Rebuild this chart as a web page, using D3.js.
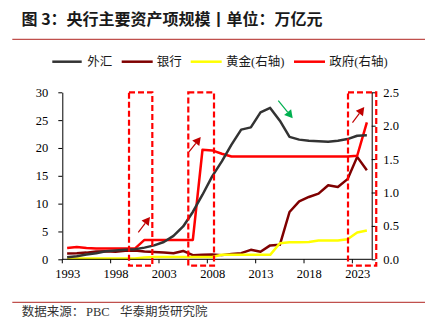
<!DOCTYPE html>
<html><head><meta charset="utf-8">
<script src="https://cdn.jsdelivr.net/npm/d3@7"></script>
<style>
html,body{margin:0;padding:0;background:#fff;}
svg{display:block;}
</style></head>
<body>
<svg id="c" width="437" height="332"></svg>
<script>
// ---- data ----
const years = d3.range(1993, 2025);
const fx    = [0.35,0.55,0.85,1.1,1.45,1.6,1.7,1.8,2.1,2.5,3.1,4.2,5.9,8.5,11.6,14.9,17.6,20.6,23.3,23.7,26.4,27.2,24.9,22.0,21.5,21.3,21.2,21.1,21.3,21.6,22.2,22.3];
const banks = [1.05,1.1,1.2,1.4,1.45,1.35,1.55,1.6,1.4,1.3,1.2,1.1,1.5,0.75,0.8,0.85,0.75,0.95,1.1,1.7,1.35,2.5,2.6,8.5,10.4,11.2,11.8,13.3,13.0,14.4,18.4,16.0];
const gold  = [0.012,0.012,0.012,0.012,0.012,0.012,0.012,0.012,0.026,0.034,0.034,0.034,0.034,0.034,0.034,0.034,0.067,0.067,0.067,0.067,0.067,0.067,0.24,0.255,0.255,0.26,0.28,0.28,0.28,0.3,0.4,0.43];
const govt  = [0.17,0.185,0.17,0.16,0.16,0.16,0.16,0.16,0.29,0.29,0.29,0.29,0.29,0.29,1.64,1.63,1.58,1.54,1.54,1.54,1.54,1.54,1.54,1.54,1.54,1.54,1.54,1.54,1.54,1.54,1.55,2.05];
const leftTicks = [0,5,10,15,20,25,30];
const rightTicks = [0,0.5,1.0,1.5,2.0,2.5];
const labelYears = [1993,1998,2003,2008,2013,2018,2023];
const seriesNames = ["外汇","银行","黄金(右轴)","政府(右轴)"];
const seriesColors = ["#333333","#7f0000","#ffff00","#ff0000"];
// annotation boxes [startYear, endYear] (fractional year edges), arrows [x0,y0,x1,y1] in (year, left-axis value)
const boxes = [[1999.9,2002.31],[2006.03,2008.69],[2022.55,2025.47]];
const arrows = [
  {p:[2000.86,4.85,2002.07,7.6], c:"#c00000"},
  {p:[2006.1,19.3,2007.32,21.97], c:"#c00000"},
  {p:[2023.01,24.57,2024.23,27.35], c:"#c00000"},
  {p:[2015.34,28.49,2016.83,25.33], c:"#00b050"}
];

const svg = d3.select("#c");
const L = 62.3, R = 371.7, T = 92.3, B = 259.3;
const xEdge = d3.scaleLinear().domain([1993, 2025]).range([L, R]);
const xc = y => xEdge(y + 0.5);
const yL = d3.scaleLinear().domain([0, 30]).range([B, T]);
const yR = d3.scaleLinear().domain([0, 2.5]).range([B, T]);

const serif = "'Liberation Serif','Times New Roman','Noto Sans CJK SC',serif";
const cjk = "'Noto Sans CJK SC','Liberation Serif',sans-serif";

// title
svg.append("text").attr("x", 21.5).attr("y", 18).attr("dominant-baseline","central")
  .attr("font-family", cjk).attr("font-weight","bold").attr("font-size", 16).attr("fill","#1a1a1a")
  .text("图 3：央行主要资产项规模丨单位：万亿元");
svg.append("line").attr("x1",12.3).attr("x2",425).attr("y1",39.3).attr("y2",39.3)
  .attr("stroke","#c0504d").attr("stroke-width",1.2);

// legend
const legX = [[52.3,81.7,87.3],[121.7,152.7,156.7],[190.7,221.7,226],[294,325,329.3]];
seriesNames.forEach((n,i)=>{
  svg.append("line").attr("x1",legX[i][0]).attr("x2",legX[i][1]).attr("y1",61.7).attr("y2",61.7)
    .attr("stroke",seriesColors[i]).attr("stroke-width",2.5);
  svg.append("text").attr("x",legX[i][2]).attr("y",62).attr("dominant-baseline","central")
    .attr("font-family",serif).attr("font-size",12.5).attr("fill","#1a1a1a").text(n);
});

// lines
const mk = (ys, scale) => d3.line().x((d,i)=>xc(years[i])).y(d=>scale(d))(ys);
const order = [[banks,yL,1],[gold,yR,2],[govt,yR,3],[fx,yL,0]];
order.forEach(([ys,sc,ci])=>{
  svg.append("path").attr("d", mk(ys,sc)).attr("fill","none")
    .attr("stroke",seriesColors[ci]).attr("stroke-width",2.5).attr("stroke-linejoin","round");
});

// axes
const gL = svg.append("g").attr("transform",`translate(${L},0)`)
  .call(d3.axisLeft(yL).tickValues(leftTicks).tickSize(4).tickSizeOuter(0).tickPadding(10).tickFormat(d3.format("d")));
const gR = svg.append("g").attr("transform",`translate(${R},0)`)
  .call(d3.axisRight(yR).tickValues(rightTicks).tickSize(4).tickSizeOuter(0).tickPadding(7.6).tickFormat(d3.format(".1f")));
const gB = svg.append("g").attr("transform",`translate(0,${B})`)
  .call(d3.axisBottom(xEdge).tickValues(labelYears.map(y=>y+0.5)).tickSize(0).tickPadding(10.3).tickFormat(d=>String(Math.round(d-0.5))));
gB.select(".domain").remove();
svg.append("line").attr("x1",L).attr("x2",R).attr("y1",B).attr("y2",B).attr("stroke","#000").attr("stroke-width",1);
labelYears.forEach(y=>{
  svg.append("line").attr("x1",xEdge(y)).attr("x2",xEdge(y)).attr("y1",B).attr("y2",B+4).attr("stroke","#000");
});
[gL,gR,gB].forEach(g=>{
  g.selectAll("text").attr("font-family",serif).attr("font-size",12.5).attr("fill","#000");
  g.selectAll("path,line").attr("stroke","#000");
});

// dashed boxes
boxes.forEach(([a,b])=>{
  svg.append("rect").attr("x",xEdge(a)).attr("y",yL(30)).attr("width",xEdge(b)-xEdge(a))
    .attr("height",yL(-1.15)-yL(30)).attr("fill","none").attr("stroke","#ff0000")
    .attr("stroke-width",2.2).attr("stroke-dasharray","6,3");
});

// arrows
arrows.forEach(a=>{
  const [x0,y0,x1,y1] = [xEdge(a.p[0]),yL(a.p[1]),xEdge(a.p[2]),yL(a.p[3])];
  const ang = Math.atan2(y1-y0,x1-x0), hl = 8, hw = 4.5;
  const bx = x1 - hl*Math.cos(ang), by = y1 - hl*Math.sin(ang);
  svg.append("line").attr("x1",x0).attr("y1",y0).attr("x2",bx).attr("y2",by)
    .attr("stroke",a.c).attr("stroke-width",1.2);
  const px = -Math.sin(ang), py = Math.cos(ang);
  svg.append("path").attr("d",`M${x1},${y1}L${bx+hw*px},${by+hw*py}L${bx-hw*px},${by-hw*py}Z`).attr("fill",a.c);
});

// footer
svg.append("line").attr("x1",12.3).attr("x2",425).attr("y1",302.3).attr("y2",302.3)
  .attr("stroke","#c0504d").attr("stroke-width",1.2);
const ft = [["数据来源：",21.7],["PBC",86],["华泰期货研究院",120]];
ft.forEach(([t,x])=>{
  svg.append("text").attr("x",x).attr("y",312).attr("dominant-baseline","central")
    .attr("font-family",serif).attr("font-size",12.5).attr("fill","#333").text(t);
});
</script>
</body></html>
